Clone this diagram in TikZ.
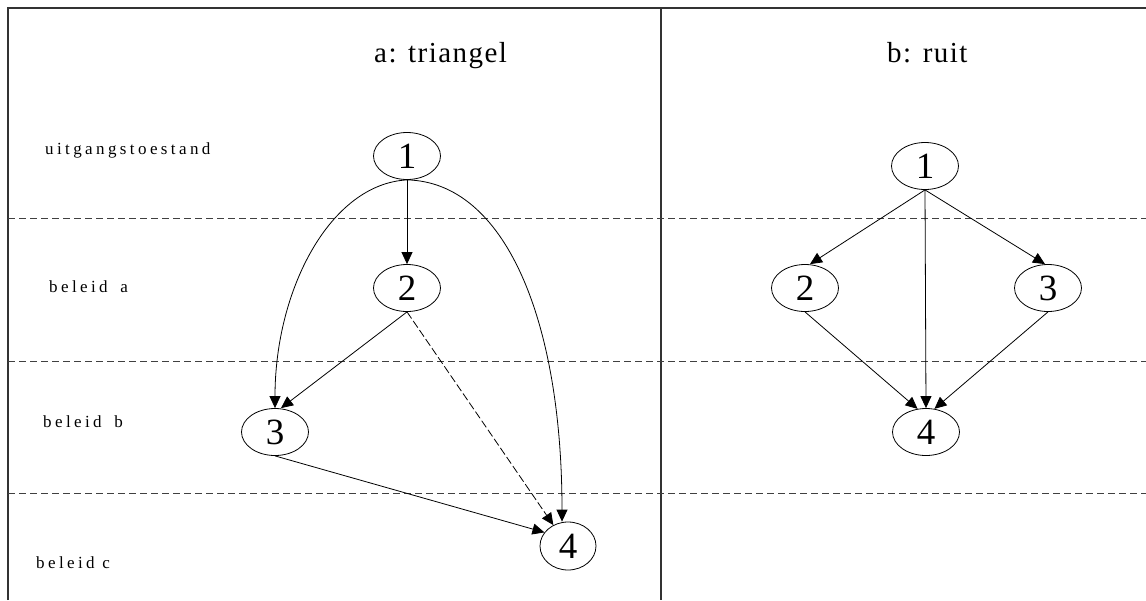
\documentclass[tikz,border=0pt]{standalone}
\usepackage{fontspec}
\setmainfont{Liberation Serif}
\newfontfamily\spacedfont[LetterSpace=20]{Liberation Serif}
\newfontfamily\titlefont[LetterSpace=5]{Liberation Serif}
\usetikzlibrary{arrows.meta,shapes.geometric}
\begin{document}
\begin{tikzpicture}[x=1pt,y=-1pt,
  frame/.style={line width=1.1pt,draw=black!80},
  sep/.style={line width=0.9pt,draw=black!75,dash pattern=on 7pt off 4pt},
  st/.style={ellipse,draw,line width=0.8pt,inner sep=0pt,font=\fontsize{37}{37}\selectfont},
  stw/.style={st,minimum width=67pt,minimum height=47pt},
  edge/.style={line width=0.8pt,-{Triangle[length=12pt,width=11pt]}},
  dedge/.style={edge,dash pattern=on 8pt off 3pt},
  rowlab/.style={anchor=base west,inner sep=0pt,font=\spacedfont\fontsize{17}{17}\selectfont},
  ttl/.style={anchor=base west,inner sep=0pt,font=\titlefont\fontsize{29}{29}\selectfont}
]
\useasboundingbox (0,0) rectangle (1146,600);
% frame
\draw[frame] (8,600) -- (8,8) -- (1146,8);
\draw[frame] (661,8) -- (661,600);
\draw[sep] (8,218) -- (1146,218);
\draw[sep] (8,361) -- (1146,361);
\draw[sep] (8,493) -- (1146,493);
% titles
\node[ttl] (ta) at (374,62) {a: triangel};
\node[ttl] (tb) at (887,62) {b: ruit};
% row labels
\node[rowlab] (r0) at (45,154) {uitgangstoestand};
\node[rowlab] (r1) at (49,292) {beleid\hspace{5pt} a};
\node[rowlab] (r2) at (43,427) {beleid\hspace{5pt} b};
\node[rowlab] (r3) at (36,568) {beleid c};
% left: triangel
\node[stw] (l1) at (407,156) {1};
\node[stw] (l2) at (407,288) {2};
\node[stw] (l3) at (275,432) {3};
\node[stw,minimum width=56pt,minimum height=48pt] (l4) at (568,546) {4};
\draw[edge] (l1.south) -- (l2.north);
\draw[edge] (l1.south) .. controls (330,184) and (275,290) .. (l3.north);
\draw[edge] (l1.south) .. controls (505,182) and (562,320) .. ([xshift=-6pt]l4.north);
\draw[edge] (l2.south) -- ([xshift=6pt]l3.north);
\draw[dedge] (l2.south) -- (l4.125);
\draw[edge] (l3.south) -- (l4.150);
% right: ruit
\node[stw] (q1) at (925,166) {1};
\node[stw] (q2) at (805,288) {2};
\node[stw] (q3) at (1048,288) {3};
\node[stw] (q4) at (926,432) {4};
\draw[edge] (q1.south) -- ([xshift=5pt]q2.north);
\draw[edge] (q1.south) -- ([xshift=-3pt]q3.north);
\draw[edge] (q1.south) -- (q4.north);
\draw[edge] (q2.south) -- (q4.110);
\draw[edge] (q3.south) -- (q4.70);
\end{tikzpicture}
\end{document}
